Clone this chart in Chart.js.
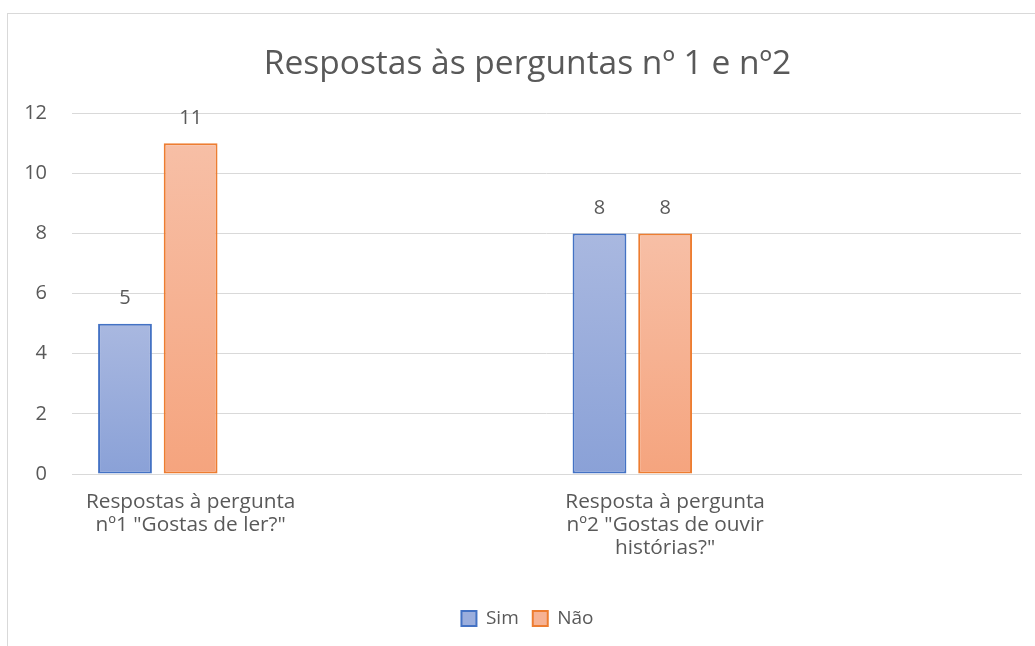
<!DOCTYPE html>
<html><head><meta charset="utf-8">
<script src="https://cdn.jsdelivr.net/npm/chart.js@4.4.0/dist/chart.umd.min.js"></script>
<style>
html,body{margin:0;padding:0;background:#fff;}
#wrap{position:relative;width:1035px;height:646px;overflow:hidden;}
#frame{position:absolute;left:7px;top:13px;width:1100px;height:700px;border-left:1px solid #D9D9D9;border-top:1px solid #D9D9D9;}
canvas{position:absolute;left:0;top:0;}
</style></head><body>
<div id="wrap"><div id="frame"></div><canvas id="c" width="1035" height="646"></canvas></div>
<script>
const titleText = 'Respostas às perguntas nº 1 e nº2';
const categories = [
  ['Respostas à pergunta', 'nº1 "Gostas de ler?"'],
  '',
  ['Resposta à pergunta', 'nº2 "Gostas de ouvir', 'histórias?"'],
  ''
];
const seriesNames = ['Sim', 'Não'];
const simValues = [5, null, 8, null];
const naoValues = [11, null, 8, null];
const emptyValues = [null, null, null, null];
const yTicks = [0, 2, 4, 6, 8, 10, 12];

const TEXT = '#595959';
const FONT = '"Open Sans", "Noto Sans", sans-serif';

function grad(top, bottom) {
  return (c) => {
    const chart = c.chart;
    if (c.type !== 'data' || !chart.chartArea || c.raw == null) return bottom;
    const y = chart.scales.y;
    const y0 = y.getPixelForValue(c.raw), y1 = y.getPixelForValue(0);
    const g = chart.ctx.createLinearGradient(0, y0, 0, y1);
    g.addColorStop(0, top);
    g.addColorStop(1, bottom);
    return g;
  };
}

const dataLabels = {
  id: 'dataLabels',
  afterDatasetsDraw(chart) {
    const ctx = chart.ctx;
    ctx.save();
    ctx.font = '20px ' + FONT;
    ctx.fillStyle = TEXT;
    ctx.textAlign = 'center';
    ctx.textBaseline = 'alphabetic';
    chart.data.datasets.forEach((ds, i) => {
      if (!ds.showValues) return;
      const meta = chart.getDatasetMeta(i);
      meta.data.forEach((el, j) => {
        const v = ds.data[j];
        if (v == null) return;
        ctx.fillText(String(v), el.x, el.y - 19.5);
      });
    });
    ctx.restore();
  }
};

// shift the full-width title and legend a little to the right (the frame starts at x=7)
const shiftBlocks = {
  id: 'shiftBlocks',
  afterLayout(chart) {
    chart.boxes.forEach(b => {
      if (b === chart.titleBlock || b === chart.legend) { b.left += 10; b.right += 10; }
    });
  }
};

const legendFills = ['#9BAEDD', '#F6B294'];
const borders = ['#4472C4', '#ED7D31'];

new Chart(document.getElementById('c'), {
  type: 'bar',
  data: {
    labels: categories,
    datasets: [
      { label: seriesNames[0], data: simValues, showValues: true,
        backgroundColor: grad('#A9B8E0', '#8AA1D7'), borderColor: borders[0], borderWidth: 2, borderSkipped: false },
      { label: seriesNames[1], data: naoValues, showValues: true,
        backgroundColor: grad('#F7BFA6', '#F5A47E'), borderColor: borders[1], borderWidth: 2, borderSkipped: false },
      { label: '', data: emptyValues, backgroundColor: 'rgba(0,0,0,0)' }
    ]
  },
  options: {
    responsive: false,
    animation: false,
    devicePixelRatio: 1,
    datasets: { bar: { categoryPercentage: 0.83, barPercentage: 0.82 } },
    layout: { padding: { left: 14, right: 14, top: 13, bottom: 8 } },
    plugins: {
      title: { display: true, text: titleText, color: TEXT,
        font: { family: FONT, size: 33.5, weight: 'normal', lineHeight: 1.2 },
        padding: { top: 31, bottom: 29 } },
      legend: { position: 'bottom',
        labels: { boxWidth: 15, boxHeight: 15, padding: 14, color: TEXT,
          font: { family: FONT, size: 19 },
          generateLabels() {
            return seriesNames.map((n, i) => ({ text: n, fillStyle: legendFills[i], strokeStyle: borders[i],
              lineWidth: 2, hidden: false, datasetIndex: i, fontColor: TEXT }));
          } } },
      tooltip: { enabled: false }
    },
    scales: {
      x: {
        grid: { display: false },
        border: { display: true, color: '#D9D9D9', width: 1 },
        afterFit(s) { s.height = 121; },
        ticks: { color: TEXT, autoSkip: false, maxRotation: 0, padding: 9,
          font: { family: FONT, size: 20.8, lineHeight: 1.106 } }
      },
      y: {
        min: 0, max: 12,
        afterBuildTicks(s) { s.ticks = yTicks.map(v => ({ value: v })); },
        afterFit(s) { s.width = 58; },
        grid: { color: '#D9D9D9', lineWidth: 1, drawTicks: false },
        border: { display: false },
        ticks: { color: TEXT, padding: 25, font: { family: FONT, size: 20 } }
      }
    }
  },
  plugins: [dataLabels, shiftBlocks]
});
</script>
</body></html>
